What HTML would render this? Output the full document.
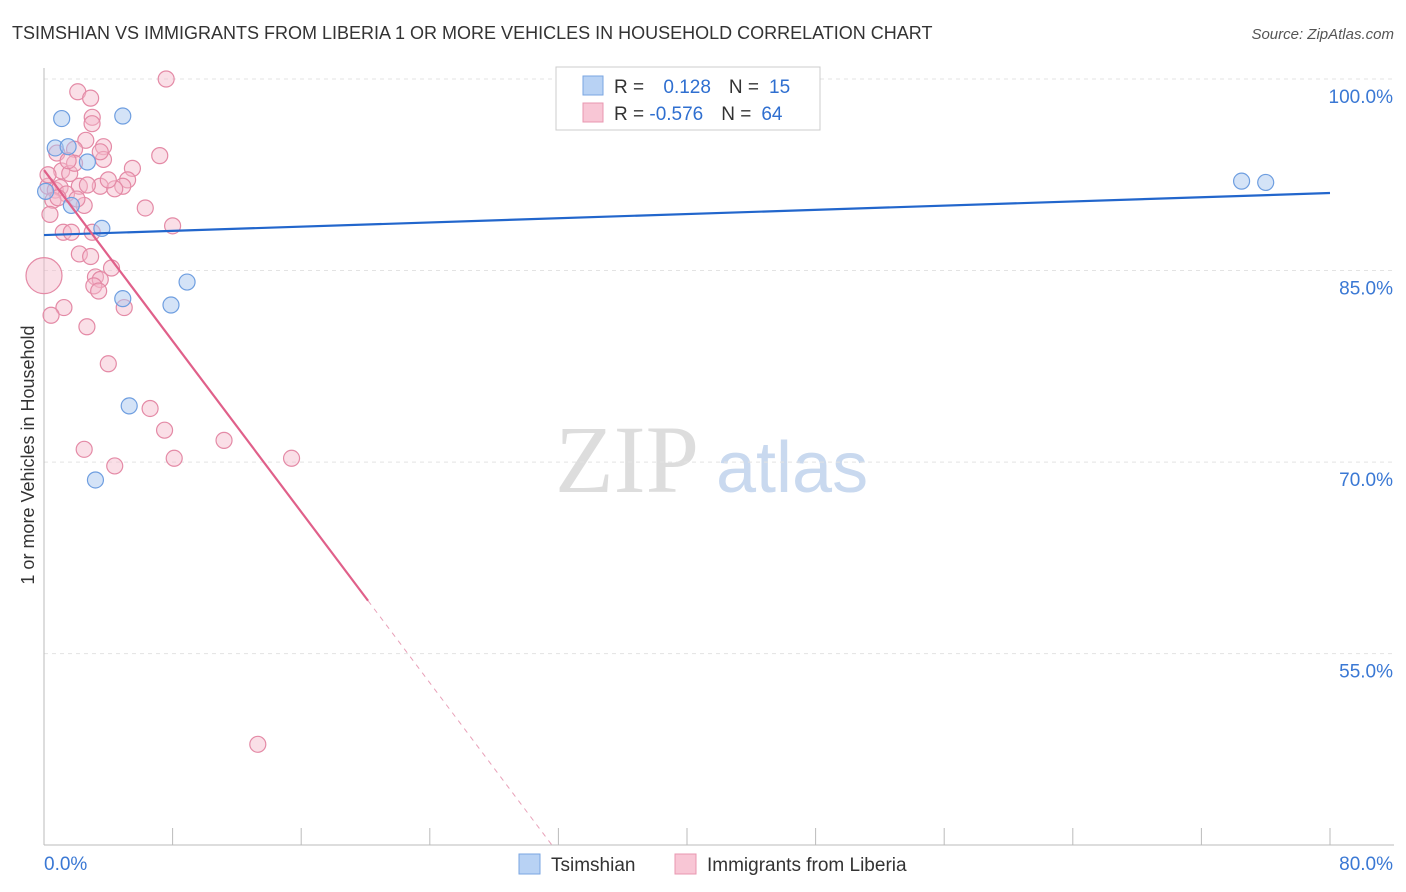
<!DOCTYPE html>
<html><head><meta charset="utf-8"><style>
body{margin:0;background:#fff;font-family:"Liberation Sans",sans-serif;}
#c{position:relative;width:1406px;height:892px;overflow:hidden}
</style></head><body>
<div id="c">
<svg id="s" width="1406" height="892">
<text x="12" y="39" font-size="18" fill="#333">TSIMSHIAN VS IMMIGRANTS FROM LIBERIA 1 OR MORE VEHICLES IN HOUSEHOLD CORRELATION CHART</text>
<text x="1394" y="39" font-size="15" fill="#555" font-style="italic" text-anchor="end">Source: ZipAtlas.com</text>
<text x="34" y="455" font-size="18" fill="#333" text-anchor="middle" transform="rotate(-90 34 455)">1 or more Vehicles in Household</text>
<text x="555" y="492" font-size="96" fill="#ddd" font-family="Liberation Serif,serif">ZIP</text>
<text x="716" y="492" font-size="72" fill="#c9d9ef">atlas</text>
<g id="grid"></g><g id="pts"></g><g id="lines"></g>
<rect x="556" y="67" width="264" height="63" fill="#fff" stroke="#ccc"/>
<rect x="583" y="76" width="20" height="19" fill="#b8d2f4" stroke="#7aa6e2"/>
<rect x="583" y="103" width="20" height="19" fill="#f8c6d5" stroke="#e897b0"/>
<text x="614" y="93" font-size="19" fill="#333">R = <tspan fill="#2f6fd0" dx="14">0.128</tspan><tspan fill="#333" dx="18">N =</tspan><tspan fill="#2f6fd0" dx="10">15</tspan></text>
<text x="614" y="120" font-size="19" fill="#333">R = <tspan fill="#2f6fd0">-0.576</tspan><tspan fill="#333" dx="18">N =</tspan><tspan fill="#2f6fd0" dx="10">64</tspan></text>
<rect x="519" y="854" width="21" height="20" fill="#b8d2f4" stroke="#7aa6e2"/>
<text x="551" y="871" font-size="19" fill="#333">Tsimshian</text>
<rect x="675" y="854" width="21" height="20" fill="#f8c6d5" stroke="#e897b0"/>
<text x="707" y="871" font-size="19" fill="#333">Immigrants from Liberia</text>
</svg></div>
<script>
const blueX=[1.1,4.9,0.7,1.5,2.7,1.7,3.6,8.9,4.9,7.9,5.3,3.2,74.5,76.0,0.1];
const blueY=[96.9,97.1,94.6,94.7,93.5,90.1,88.3,84.1,82.8,82.3,74.4,68.6,92.0,91.9,91.2];
const pinkX=[7.6,2.1,2.9,3.0,2.99,2.6,0.8,1.9,3.7,3.7,7.2,1.1,1.6,5.5,1.9,0.25,0.7,1.0,2.2,3.5,5.2,4.9,2.7,1.4,0.56,2.5,6.3,0.37,8.0,1.2,1.7,3.0,2.2,2.9,4.2,3.2,3.5,3.1,3.4,4.99,1.24,0.44,2.67,4.0,6.6,7.5,2.5,11.2,8.1,15.4,4.4,13.3,0.0,4.4,4.0,3.5,1.5,0.87,2.05,0.25];
const pinkY=[100.0,99.0,98.5,97.0,96.5,95.2,94.2,94.5,94.7,93.7,94.0,92.8,92.6,93.0,93.4,91.6,91.3,91.5,91.6,91.6,92.1,91.6,91.7,91.0,90.5,90.1,89.9,89.4,88.5,88.0,88.0,88.0,86.3,86.1,85.2,84.5,84.3,83.8,83.4,82.1,82.1,81.5,80.6,77.7,74.2,72.5,71.0,71.7,70.3,70.3,69.7,47.9,84.6,91.4,92.1,94.3,93.6,90.7,90.6,92.5];
const xTicks=[0,8,16,24,32,40,48,56,64,72,80];
const yTicks=[100,85,70,55];
const blueFit=[87.78,91.07];
const pinkFit=[92.87,-1.673];
const X=v=>44+v*16.075, Y=v=>79+(100-v)*12.77;
const NS="http://www.w3.org/2000/svg";
function mk(t,a,p){const e=document.createElementNS(NS,t);for(const k in a)e.setAttribute(k,a[k]);p.appendChild(e);return e;}
const g=document.getElementById('grid');
yTicks.forEach(v=>{
 const l=mk('line',{x1:44,x2:1394,y1:Y(v),y2:Y(v),stroke:'#e3e3e3','stroke-dasharray':'4,4'},g);
 
 
 const t=mk('text',{x:1393,y:Y(v)+24,'font-size':19,fill:'#3a78d4','text-anchor':'end'},g);t.textContent=v.toFixed(1)+'%';
 
 
});
const ax=mk('line',{x1:44,x2:44,y1:68,y2:845,stroke:'#bbb'},g);


const bx=mk('line',{x1:44,x2:1394,y1:845,y2:845,stroke:'#bbb'},g);


xTicks.forEach(v=>{
 const l=mk('line',{x1:X(v),x2:X(v),y1:828,y2:845,stroke:'#bbb'},g);
 
 
});
[[0,'start'],[80,'end']].forEach(([v,a])=>{
 const t=mk('text',{x:a=='start'?X(v):1393,y:870,'font-size':19,fill:'#3a78d4','text-anchor':a},g);t.textContent=v.toFixed(1)+'%';
 
 
});
const p=document.getElementById('pts');
pinkX.forEach((x,i)=>{
 const c=mk('circle',{cx:X(x),cy:Y(pinkY[i]),r:x===0?18:8,fill:'#f4b8c9','fill-opacity':0.45,stroke:'#e48aa6','stroke-width':1.2},p);
 
 
});
blueX.forEach((x,i)=>{
 const c=mk('circle',{cx:X(x),cy:Y(blueY[i]),r:8,fill:'#a9c8f0','fill-opacity':0.5,stroke:'#6e9ee0','stroke-width':1.2},p);
 
 
});
const L=document.getElementById('lines');
const b=mk('line',{x1:X(0),y1:Y(blueFit[0]),x2:X(80),y2:Y(blueFit[1]),stroke:'#2266cc','stroke-width':2.2},L);


const pe=20.16, pd=(40-pinkFit[0])/pinkFit[1];
const pl=mk('line',{x1:X(0),y1:Y(pinkFit[0]),x2:X(pe),y2:Y(pinkFit[0]+pinkFit[1]*pe),stroke:'#e0608a','stroke-width':2.2},L);


const pdl=mk('line',{x1:X(pe),y1:Y(pinkFit[0]+pinkFit[1]*pe),x2:X(pd),y2:Y(40),stroke:'#e8a0b8','stroke-width':1,'stroke-dasharray':'5,5'},L);


</script>
</body></html>
